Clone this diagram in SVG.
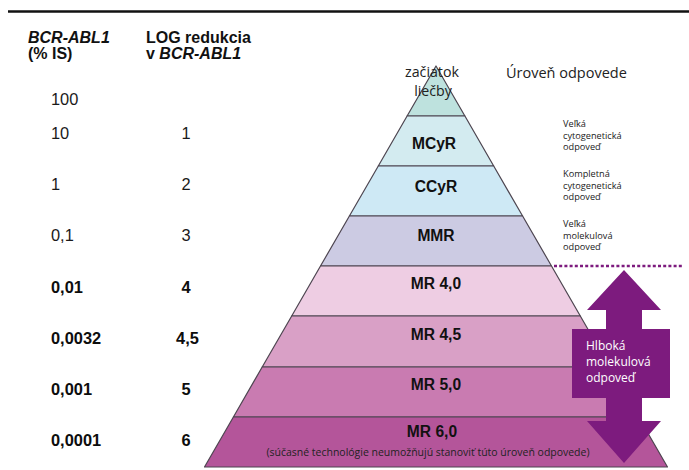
<svg xmlns="http://www.w3.org/2000/svg" width="689" height="470" viewBox="0 0 689 470">
  <style>
    .hdr { font-family: "Liberation Sans", Arial, sans-serif; font-size: 16px; font-weight: bold; fill: #111; }
    .num { font-family: "Liberation Sans", Arial, sans-serif; font-size: 16.4px; fill: #1a1a1a; }
    .numb { font-weight: bold; fill: #0d0d0d; }
    .lvl { font-family: "Liberation Sans", Arial, sans-serif; font-size: 15.6px; font-weight: bold; fill: #111; text-anchor: middle; }
    .soft { font-family: "Open Sans", "Noto Sans", sans-serif; fill: #222; }
    .note { font-family: "Open Sans", "Noto Sans", sans-serif; font-size: 9.2px; fill: #222; }
    .inv { font-family: "Open Sans", "Noto Sans", sans-serif; font-size: 12px; fill: #fff; }
    .band { stroke: #4d4550; stroke-width: 1.2; stroke-linejoin: round; }
  </style>

  <!-- top rule -->
  <line x1="8" y1="11.5" x2="689" y2="11.5" stroke="#111" stroke-width="2.6"/>

  <!-- column headers -->
  <g id="header-bcr">
    <text class="hdr" x="28" y="43" font-style="italic">BCR-ABL1</text>
    <text class="hdr" x="28" y="58.5">(% IS)</text>
  </g>
  <g id="header-log">
    <text class="hdr" x="146" y="43">LOG redukcia</text>
    <text class="hdr" x="146" y="58.5">v <tspan font-style="italic">BCR-ABL1</tspan></text>
  </g>

  <!-- scale values -->
  <g id="scale-values">
    <text class="num" x="51" y="105">100</text>
    <text class="num" x="51" y="139">10</text>
    <text class="num" x="51" y="189.5">1</text>
    <text class="num" x="51" y="240.5">0,1</text>
    <text class="num numb" x="51" y="292.5">0,01</text>
    <text class="num numb" x="51" y="344">0,0032</text>
    <text class="num numb" x="51" y="394.5">0,001</text>
    <text class="num numb" x="51" y="445.5">0,0001</text>
  </g>
  <g id="log-values" text-anchor="middle">
    <text class="num" x="186" y="139">1</text>
    <text class="num" x="186" y="189.5">2</text>
    <text class="num" x="186" y="240.5">3</text>
    <text class="num numb" x="186" y="292.5">4</text>
    <text class="num numb" x="187.5" y="344">4,5</text>
    <text class="num numb" x="186" y="394.5">5</text>
    <text class="num numb" x="186" y="445.5">6</text>
  </g>

  <!-- pyramid levels, top to bottom -->
  <g id="level-start">
    <polygon class="band" points="436,66 464.9,116 407.1,116" fill="#bee2de"/>
    <text class="soft" x="432" y="76.5" font-size="14.2" text-anchor="middle">začiatok</text>
    <text class="soft" x="433" y="95.5" font-size="14.2" text-anchor="middle">liečby</text>
  </g>
  <g id="level-mcyr">
    <polygon class="band" points="407.1,116 464.9,116 493.7,166 378.3,166" fill="#d3ebf0"/>
    <text class="lvl" x="434" y="148.5">MCyR</text>
  </g>
  <g id="level-ccyr">
    <polygon class="band" points="378.3,166 493.7,166 522.6,216 349.4,216" fill="#cee9f5"/>
    <text class="lvl" x="436" y="191.5">CCyR</text>
  </g>
  <g id="level-mmr">
    <polygon class="band" points="349.4,216 522.6,216 551.5,266 320.5,266" fill="#cccbe3"/>
    <text class="lvl" x="436" y="241">MMR</text>
  </g>
  <g id="level-mr40">
    <polygon class="band" points="320.5,266 551.5,266 580.3,316 291.7,316" fill="#eecde3"/>
    <text class="lvl" x="436" y="289.3">MR 4,0</text>
  </g>
  <g id="level-mr45">
    <polygon class="band" points="291.7,316 580.3,316 609.8,367 262.2,367" fill="#d9a0c6"/>
    <text class="lvl" x="436" y="339.5">MR 4,5</text>
  </g>
  <g id="level-mr50">
    <polygon class="band" points="262.2,367 609.8,367 638.6,417 233.4,417" fill="#c97bb1"/>
    <text class="lvl" x="436" y="389.5">MR 5,0</text>
  </g>
  <g id="level-mr60">
    <polygon class="band" points="233.4,417 638.6,417 667.5,467 204.5,467" fill="#b4559a"/>
    <text class="lvl" x="432" y="437.3">MR 6,0</text>
    <text class="soft" x="428" y="456" font-size="10" text-anchor="middle" textLength="323" lengthAdjust="spacingAndGlyphs">(súčasné technológie neumožňujú stanoviť túto úroveň odpovede)</text>
  </g>

  <!-- response descriptions -->
  <g id="response-title">
    <text class="soft" x="506" y="78" font-size="14.5">Úroveň odpovede</text>
  </g>
  <g id="response-mcyr">
    <text class="note" x="563" y="127">Veľká</text>
    <text class="note" x="563" y="138.5">cytogenetická</text>
    <text class="note" x="563" y="150">odpoveď</text>
  </g>
  <g id="response-ccyr">
    <text class="note" x="563" y="177">Kompletná</text>
    <text class="note" x="563" y="188.5">cytogenetická</text>
    <text class="note" x="563" y="200">odpoveď</text>
  </g>
  <g id="response-mmr">
    <text class="note" x="563" y="227">Veľká</text>
    <text class="note" x="563" y="238.5">molekulová</text>
    <text class="note" x="563" y="250">odpoveď</text>
  </g>

  <!-- connectors: MMR threshold and deep-response range -->
  <g id="connectors">
    <line x1="554" y1="266" x2="682" y2="266" stroke="#7d1b7e" stroke-width="2.6" stroke-dasharray="3,2.2"/>
    <polygon fill="#7d1b7e" points="624,270 661,310 642,310 642,421 661,421 624,463 587,421 606,421 606,310 587,310"/>
  </g>
  <g id="deep-response">
    <rect x="572" y="329" width="98" height="69" fill="#7d1b7e"/>
    <text class="inv" x="586" y="350">Hlboká</text>
    <text class="inv" x="586" y="366">molekulová</text>
    <text class="inv" x="586" y="382">odpoveď</text>
  </g>
</svg>
